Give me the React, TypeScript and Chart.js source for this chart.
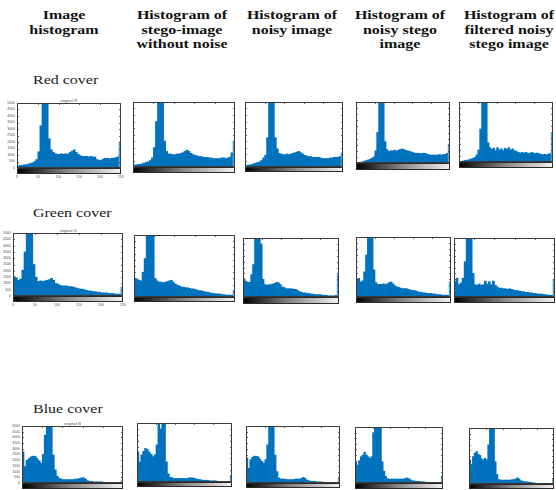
import React, { useEffect, useRef } from "react";
import { Chart, registerables } from "chart.js";

Chart.register(...registerables);

// ---------- text ----------
const HEADERS: string[][] = [
  ["Image", "histogram"],
  ["Histogram of", "stego-image", "without noise"],
  ["Histogram of", "noisy image"],
  ["Histogram of", "noisy stego", "image"],
  ["Histogram of", "filtered noisy", "stego image"],
];
const ROW_LABELS = ["Red cover", "Green cover", "Blue cover"];
const PANEL_TITLES = ["original R", "original G", "original B"];

// ---------- categories: 50 intensity bins over 0..255 ----------
const BIN_LABELS = Array.from({ length: 50 }, (_, i) => String(Math.round(i * 5.12)));
const Y_TICK_LABELS = ["0", "500", "1000", "1500", "2000", "2500", "3000", "3500", "4000", "4500", "5000"];
const X_TICK_LABELS = ["0", "50", "100", "150", "200", "250"];

// ---------- histogram values (percent of y-axis max; >100 is clipped) ----------
// Red cover
const R_IMAGE = [3,4,4,5,5,6,7,8,10,13,25,65,140,140,120,45,28,24,22,21,21,22,21,22,21,24,26,28,24,21,19,18,18,18,17,18,17,17,13,12,12,14,15,15,14,15,15,16,17,40];
const R_STEGO = [3,3,4,4,5,6,7,8,10,14,30,70,140,140,130,40,24,20,20,19,19,20,20,21,22,24,26,24,21,19,18,17,16,16,15,15,15,14,14,13,13,13,13,14,14,13,14,15,22,40];
const R_NOISY = [2,3,3,4,5,6,7,8,10,14,18,45,140,140,120,45,28,21,20,19,19,20,19,20,21,22,23,24,22,20,18,17,16,16,15,15,15,15,14,13,13,13,13,14,14,15,15,15,16,22];
const R_NOISY_STEGO = [0,1,1,2,3,4,5,6,8,10,20,50,140,140,110,35,22,19,20,20,21,20,21,22,23,22,21,20,19,18,17,16,16,16,15,16,16,15,14,13,13,13,13,13,14,13,14,14,16,31];
const R_FILTERED = [1,1,2,3,3,4,5,6,8,12,20,55,140,140,115,32,24,21,23,19,24,20,22,19,23,21,24,20,22,19,18,16,15,16,15,16,15,14,16,15,14,15,14,13,12,13,12,13,14,48];
// Green cover
const G_IMAGE = [31,29,25,27,41,70,140,140,140,50,30,23,24,23,24,25,26,28,25,20,19,17,16,16,16,15,15,14,13,12,11,11,10,9,8,8,7,7,6,6,5,5,5,4,4,4,3,3,3,14];
const G_STEGO = [30,29,27,26,40,62,140,140,140,100,30,26,24,24,23,24,25,26,27,24,21,19,18,16,16,15,15,14,13,13,12,11,10,10,9,8,8,7,6,6,5,5,5,4,4,3,3,3,3,11];
const G_NOISY = [31,27,25,25,38,55,140,140,140,90,30,21,20,21,21,22,23,25,24,21,17,16,14,14,14,14,13,13,11,9,8,7,7,6,6,5,5,4,4,4,4,3,3,3,2,2,2,2,3,38];
const G_NOISY_STEGO = [29,31,25,27,42,70,140,140,140,45,24,21,21,21,22,21,22,24,25,22,19,17,16,15,14,14,14,13,12,11,11,10,9,8,8,7,7,6,6,6,5,5,4,4,4,3,3,3,3,25];
const G_FILTERED = [27,32,21,24,32,60,140,140,140,40,21,20,22,20,21,27,22,26,21,27,20,17,15,15,14,14,13,14,13,12,11,11,10,9,9,8,8,7,7,6,6,5,5,5,4,4,3,3,3,30];
// Blue cover
const B_IMAGE = [55,29,40,43,46,47,47,43,39,35,50,84,140,140,140,49,23,12,8,7,6,6,6,6,6,6,7,7,8,9,9,7,4,3,3,2,2,2,2,2,1,1,1,1,0,0,0,0,0,4];
const B_STEGO = [51,34,46,52,57,55,51,47,43,46,63,140,90,140,140,34,14,8,7,6,6,6,6,6,6,6,6,7,7,7,6,5,4,4,3,3,3,3,2,2,2,2,1,1,1,1,1,0,0,11];
const B_NOISY = [44,26,41,45,47,47,46,42,38,35,41,67,140,140,130,49,20,9,7,7,7,6,6,6,6,6,7,7,7,8,10,8,5,4,3,3,3,2,2,2,2,1,1,1,0,0,0,0,0,9];
const B_NOISY_STEGO = [38,32,40,47,50,55,50,47,44,47,90,140,140,140,140,38,21,12,8,7,7,7,7,7,7,7,7,7,8,9,8,6,4,4,3,3,3,2,2,2,1,1,1,1,1,0,0,0,0,12];
const B_FILTERED = [43,35,49,55,58,53,51,45,43,46,43,70,140,140,140,40,17,8,7,7,7,7,7,7,7,8,8,9,11,9,6,5,4,4,4,3,3,2,2,1,1,1,1,0,0,0,0,0,0,8];

const SERIES: number[][][] = [
  [R_IMAGE, R_STEGO, R_NOISY, R_NOISY_STEGO, R_FILTERED],
  [G_IMAGE, G_STEGO, G_NOISY, G_NOISY_STEGO, G_FILTERED],
  [B_IMAGE, B_STEGO, B_NOISY, B_NOISY_STEGO, B_FILTERED],
];

// ---------- layout (page pixels): plot box x0,y0,x1,y1 and bottom of gray strip ----------
const BOXES: number[][][] = [
  [[17,103,121,168,174],[133,102,235,167,173],[245,102,343,167,172],[356,102,450,163,170],[459,102,553,162,168]],
  [[13,233,123,296,302],[134,235,235,297,302],[243,238,339,297,304],[356,237,451,297,303],[454,238,555,297,303]],
  [[22,426,123,483,489],[137,423,232,482,487],[246,426,340,483,488],[355,427,443,483,489],[469,428,554,484,489]],
];
const HEADER_X = [64, 182, 292, 400, 509];
const ROW_LABEL_Y = [73.4, 206.1, 401.7];

const BLUE = "#0072BD";
const EDGE_BLUE = "#4da6e0";
const PAD_L = 16, PAD_T = 6, PAD_R = 3, PAD_B = 8;

const framePlugin = {
  id: "panelFrame",
  afterDraw(chart: any, _args: any, opts: any) {
    const { ctx, chartArea } = chart;
    const { left, top, right, bottom } = chartArea;
    const stripH = opts.stripH as number;
    ctx.save();
    // gray colour-bar strip
    const g = ctx.createLinearGradient(left, 0, right, 0);
    g.addColorStop(0, "#000000");
    g.addColorStop(0.5, "#8a8a8a");
    g.addColorStop(1, "#f4f4f4");
    ctx.fillStyle = g;
    ctx.fillRect(left, bottom, right - left, stripH);
    ctx.strokeStyle = "#2a2a2a";
    ctx.lineWidth = 1;
    ctx.strokeRect(left + 0.5, bottom + 0.5, right - left - 1, stripH - 1);
    // plot frame
    ctx.strokeStyle = "#3a3a3a";
    ctx.strokeRect(left + 0.5, top + 0.5, right - left - 1, bottom - top - 1);
    // tick marks
    const yScale = chart.scales.y;
    ctx.strokeStyle = "#444";
    ctx.lineWidth = 0.8;
    ctx.beginPath();
    for (let v = 0; v <= 100; v += 10) {
      const py = Math.round(yScale.getPixelForValue(v)) + 0.5;
      ctx.moveTo(left, py); ctx.lineTo(left + 2, py);
      ctx.moveTo(right, py); ctx.lineTo(right - 2, py);
    }
    for (let k = 1; k < 5; k++) {
      const px = Math.round(left + ((right - left) * k) / 5) + 0.5;
      ctx.moveTo(px, top); ctx.lineTo(px, top + 2);
    }
    ctx.stroke();
    // tiny labels on the first column
    if (opts.labels) {
      ctx.fillStyle = "#555";
      ctx.font = "3.5px sans-serif";
      ctx.textAlign = "right";
      ctx.textBaseline = "middle";
      Y_TICK_LABELS.forEach((t, i) => {
        ctx.fillText(t, left - 2, yScale.getPixelForValue(i * 10));
      });
      ctx.textAlign = "center";
      ctx.textBaseline = "top";
      X_TICK_LABELS.forEach((t, i) => {
        ctx.fillText(t, left + ((right - left) * i) / 5, bottom + stripH + 1.5);
      });
    }
    if (opts.title) {
      ctx.fillStyle = "#555";
      ctx.font = "4px sans-serif";
      ctx.textAlign = "center";
      ctx.textBaseline = "bottom";
      ctx.fillText(opts.title, (left + right) / 2, top - 0.5);
    }
    ctx.restore();
  },
};

function Panel({ values, box, labels, title }: { values: number[]; box: number[]; labels: boolean; title: string }) {
  const ref = useRef<HTMLCanvasElement>(null);
  const [x0, y0, x1, y1, gy] = box;
  const w = x1 - x0 + PAD_L + PAD_R;
  const h = gy - y0 + PAD_T + PAD_B;
  useEffect(() => {
    const chart = new Chart(ref.current as HTMLCanvasElement, {
      type: "bar",
      data: {
        labels: BIN_LABELS,
        datasets: [
          {
            data: values,
            backgroundColor: values.map((_, i) => (i === values.length - 1 ? EDGE_BLUE : BLUE)),
            borderWidth: 0,
            categoryPercentage: 1,
            barPercentage: 1,
            clip: 0,
          } as any,
        ],
      },
      options: {
        responsive: false,
        maintainAspectRatio: false,
        animation: false,
        events: [],
        layout: { padding: { left: PAD_L, top: PAD_T, right: PAD_R, bottom: gy - y1 + PAD_B } },
        plugins: {
          legend: { display: false },
          tooltip: { enabled: false },
          panelFrame: { stripH: gy - y1, labels, title },
        } as any,
        scales: {
          x: { display: false },
          y: { display: false, min: 0, max: 100 },
        },
      },
      plugins: [framePlugin],
    });
    return () => chart.destroy();
  }, []);
  return (
    <canvas
      ref={ref}
      width={w}
      height={h}
      style={{ position: "absolute", left: x0 - PAD_L, top: y0 - PAD_T, width: w, height: h }}
    />
  );
}

export default function App() {
  return (
    <div
      style={{
        position: "absolute",
        left: 0,
        top: 0,
        width: 556,
        height: 490,
        overflow: "hidden",
        background: "#ffffff",
      }}
    >
      {HEADERS.map((lines, c) => (
        <div
          key={"h" + c}
          style={{
            position: "absolute",
            left: HEADER_X[c] - 100,
            top: 8.4,
            width: 200,
            textAlign: "center",
            fontFamily: '"Liberation Serif", serif',
            fontWeight: "bold",
            fontSize: 13,
            lineHeight: "14.4px",
            color: "#111",
            transform: "scaleX(1.23)",
            transformOrigin: "center",
            whiteSpace: "nowrap",
          }}
        >
          {lines.map((l, i) => (
            <div key={i}>{l}</div>
          ))}
        </div>
      ))}
      {ROW_LABELS.map((t, r) => (
        <div
          key={"r" + r}
          style={{
            position: "absolute",
            left: 32.5,
            top: ROW_LABEL_Y[r],
            fontFamily: '"Liberation Serif", serif',
            fontSize: 13,
            lineHeight: "14.4px",
            color: "#1a1a1a",
            transform: "scaleX(1.23)",
            transformOrigin: "left",
            whiteSpace: "nowrap",
          }}
        >
          {t}
        </div>
      ))}
      {SERIES.map((row, r) =>
        row.map((vals, c) => (
          <Panel
            key={r + "-" + c}
            values={vals}
            box={BOXES[r][c]}
            labels={c === 0}
            title={c === 0 ? PANEL_TITLES[r] : ""}
          />
        ))
      )}
    </div>
  );
}
